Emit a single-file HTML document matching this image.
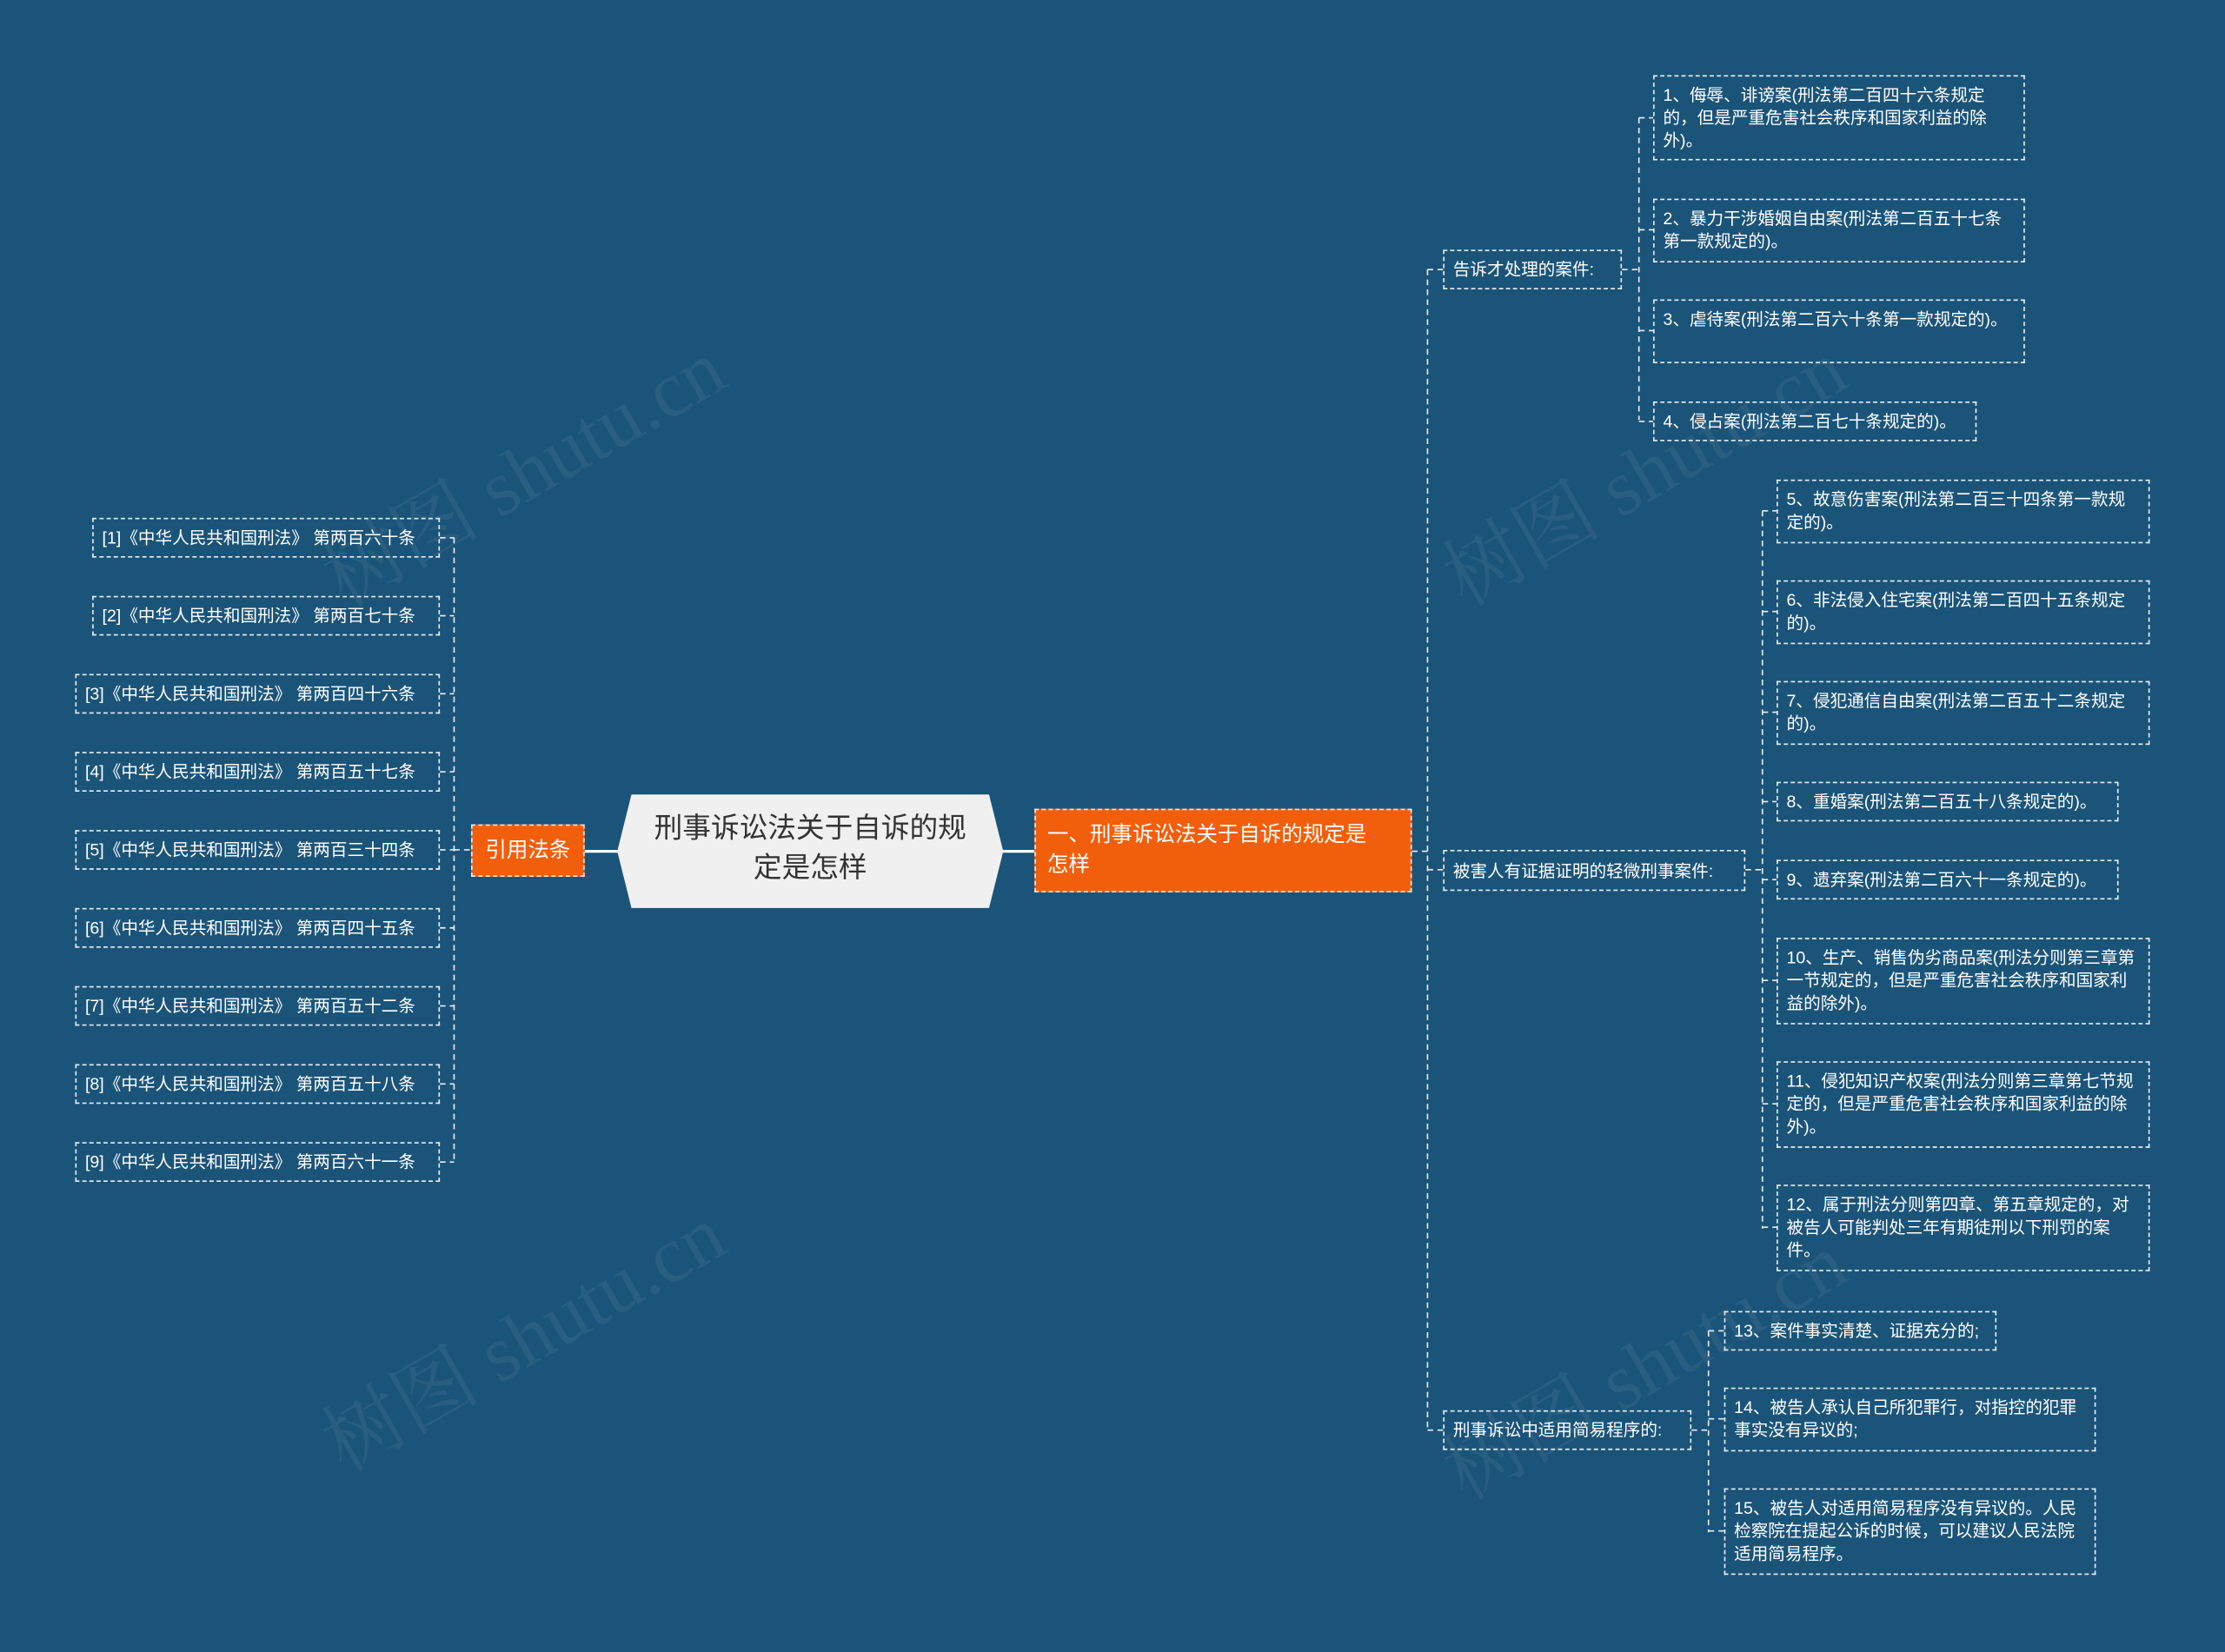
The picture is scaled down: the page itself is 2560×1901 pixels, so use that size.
<!DOCTYPE html>
<html><head><meta charset="utf-8"><style>
html,body{margin:0;padding:0;background:#1b5479;}
body{width:2560px;height:1901px;overflow:hidden;}
#w{position:absolute;left:0;top:0;width:1568px;height:1164px;transform:scale(1.63265);transform-origin:0 0;font-family:"Liberation Sans","Noto Sans CJK SC",sans-serif;}
.b{position:absolute;box-sizing:border-box;border:1px dashed #e8eef2;color:#fff;font-size:12px;line-height:16px;padding:5px 6px;}
.s{display:flex;align-items:center;white-space:nowrap;}
svg{position:absolute;left:0;top:0;}
.wm{position:absolute;color:rgba(255,255,255,0.06);font-size:56px;transform:rotate(-30deg);white-space:nowrap;font-family:"Liberation Serif","Noto Serif CJK SC",serif;}
</style></head><body><div id="w">
<div class="wm" style="left:210px;top:290px">树图 shutu.cn</div>
<div class="wm" style="left:210px;top:900px">树图 shutu.cn</div>
<div class="wm" style="left:1000px;top:290px">树图 shutu.cn</div>
<div class="wm" style="left:1000px;top:920px">树图 shutu.cn</div>
<svg width="1568" height="1164"><g stroke="#e8eef2" stroke-width="1" stroke-dasharray="4,3" fill="none">
<path d="M320 379V820"/>
<path d="M310 379H320M310 434H320M310 489H320M310 544H320M310 599H320M310 654H320M310 709H320M310 764H320M310 819H320M320 599H332"/>
<path d="M1006 190V1008M995 600H1006M1006 190H1017M1006 613H1017M1006 1008H1017"/>
<path d="M1155 83V296M1143 190H1155M1155 83H1165M1155 162H1165M1155 233H1165M1155 297H1165"/>
<path d="M1242 360V866M1230 613H1242M1242 360H1252M1242 431H1252M1242 502H1252M1242 565H1252M1242 620H1252M1242 691H1252M1242 778H1252M1242 865H1252"/>
<path d="M1204 938V1080M1192 1008H1204M1204 938H1215M1204 1000H1215M1204 1079H1215"/>
</g><g stroke="#fff" stroke-width="2"><path d="M412 600H436M706 600H729"/></g>
<polygon points="445,560 697,560 707,600 697,640 445,640 435,600" fill="#f0f0f0"/></svg>
<div class="b s" style="left:65px;top:365px;width:245px;height:28px">[1]《中华人民共和国刑法》 第两百六十条</div>
<div class="b s" style="left:65px;top:420px;width:245px;height:28px">[2]《中华人民共和国刑法》 第两百七十条</div>
<div class="b s" style="left:53px;top:475px;width:257px;height:28px">[3]《中华人民共和国刑法》 第两百四十六条</div>
<div class="b s" style="left:53px;top:530px;width:257px;height:28px">[4]《中华人民共和国刑法》 第两百五十七条</div>
<div class="b s" style="left:53px;top:585px;width:257px;height:28px">[5]《中华人民共和国刑法》 第两百三十四条</div>
<div class="b s" style="left:53px;top:640px;width:257px;height:28px">[6]《中华人民共和国刑法》 第两百四十五条</div>
<div class="b s" style="left:53px;top:695px;width:257px;height:28px">[7]《中华人民共和国刑法》 第两百五十二条</div>
<div class="b s" style="left:53px;top:750px;width:257px;height:28px">[8]《中华人民共和国刑法》 第两百五十八条</div>
<div class="b s" style="left:53px;top:805px;width:257px;height:28px">[9]《中华人民共和国刑法》 第两百六十一条</div>
<div class="b s" style="left:332px;top:581px;width:80px;height:37px;background:#f25f0c;font-size:15px;justify-content:center">引用法条</div>
<div style="position:absolute;left:455px;top:570px;width:232px;text-align:center;font-size:20px;line-height:28px;color:#333">刑事诉讼法关于自诉的规定是怎样</div>
<div class="b" style="left:729px;top:570px;width:266px;height:59px;background:#f25f0c;font-size:15px;line-height:21px;padding:7px 20px 7px 8px">一、刑事诉讼法关于自诉的规定是怎样</div>
<div class="b s" style="left:1017px;top:176px;width:126px;height:28px">告诉才处理的案件:</div>
<div class="b" style="left:1165px;top:53px;width:262px;height:60px">1、侮辱、诽谤案(刑法第二百四十六条规定的，但是严重危害社会秩序和国家利益的除外)。</div>
<div class="b" style="left:1165px;top:140px;width:262px;height:45px">2、暴力干涉婚姻自由案(刑法第二百五十七条第一款规定的)。</div>
<div class="b" style="left:1165px;top:211px;width:262px;height:45px">3、虐待案(刑法第二百六十条第一款规定的)。</div>
<div class="b s" style="left:1165px;top:283px;width:228px;height:28px">4、侵占案(刑法第二百七十条规定的)。</div>
<div class="b s" style="left:1017px;top:599px;width:213px;height:29px">被害人有证据证明的轻微刑事案件:</div>
<div class="b" style="left:1252px;top:338px;width:263px;height:45px">5、故意伤害案(刑法第二百三十四条第一款规定的)。</div>
<div class="b" style="left:1252px;top:409px;width:263px;height:45px">6、非法侵入住宅案(刑法第二百四十五条规定的)。</div>
<div class="b" style="left:1252px;top:480px;width:263px;height:45px">7、侵犯通信自由案(刑法第二百五十二条规定的)。</div>
<div class="b s" style="left:1252px;top:551px;width:241px;height:28px">8、重婚案(刑法第二百五十八条规定的)。</div>
<div class="b s" style="left:1252px;top:606px;width:241px;height:28px">9、遗弃案(刑法第二百六十一条规定的)。</div>
<div class="b" style="left:1252px;top:661px;width:263px;height:61px">10、生产、销售伪劣商品案(刑法分则第三章第一节规定的，但是严重危害社会秩序和国家利益的除外)。</div>
<div class="b" style="left:1252px;top:748px;width:263px;height:61px">11、侵犯知识产权案(刑法分则第三章第七节规定的，但是严重危害社会秩序和国家利益的除外)。</div>
<div class="b" style="left:1252px;top:835px;width:263px;height:61px">12、属于刑法分则第四章、第五章规定的，对被告人可能判处三年有期徒刑以下刑罚的案件。</div>
<div class="b s" style="left:1017px;top:994px;width:175px;height:28px">刑事诉讼中适用简易程序的:</div>
<div class="b s" style="left:1215px;top:924px;width:192px;height:28px">13、案件事实清楚、证据充分的;</div>
<div class="b" style="left:1215px;top:978px;width:262px;height:45px">14、被告人承认自己所犯罪行，对指控的犯罪事实没有异议的;</div>
<div class="b" style="left:1215px;top:1049px;width:262px;height:61px">15、被告人对适用简易程序没有异议的。人民检察院在提起公诉的时候，可以建议人民法院适用简易程序。</div>
</div></body></html>
